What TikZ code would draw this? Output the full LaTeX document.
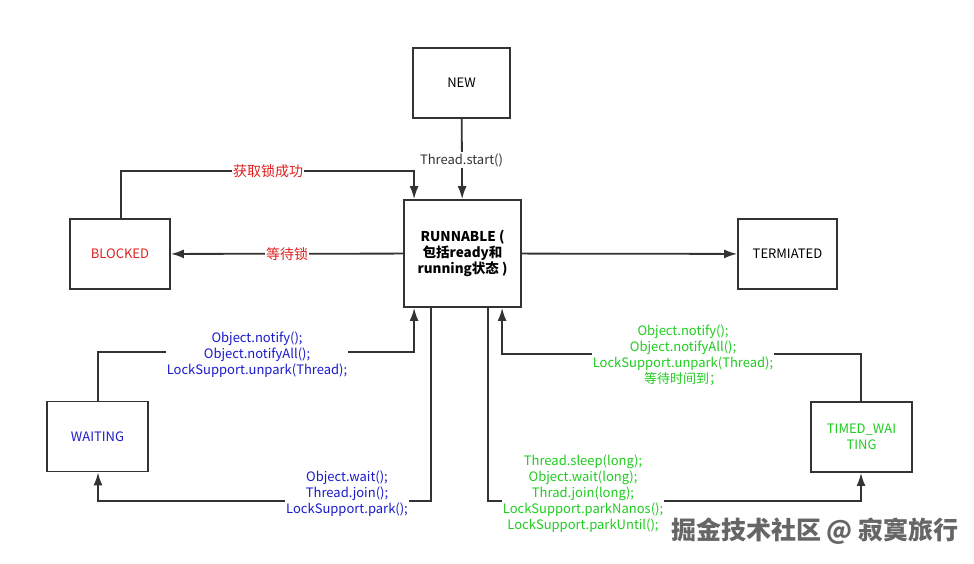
\documentclass[tikz,border=0pt]{standalone}
\usepackage{fontspec}
\setmainfont{Noto Sans CJK SC}
\usetikzlibrary{arrows.meta}
\definecolor{lineg}{HTML}{333333}
\definecolor{lred}{HTML}{E02020}
\definecolor{lblue}{HTML}{1A1ACC}
\definecolor{lgreen}{HTML}{1FCC1F}
\tikzset{
  state/.style={draw=lineg, line width=1.8pt, minimum width=97pt, minimum height=70pt, align=center, font=\fontsize{13}{16}\selectfont},
  arr/.style={-{Latex[length=13pt,width=9pt]}, draw=lineg, line width=1.8pt},
  lbl/.style={fill=white, align=center, inner sep=1pt, font=\fontsize{13}{16}\selectfont}
}
\begin{document}
\begin{tikzpicture}[x=1pt,y=-1pt]
    \useasboundingbox[fill=white] (0,0) rectangle (974,564);
    % states
    \node[state] (new) at (461.5,83) {NEW};
    \node[state, minimum width=117pt, minimum height=107pt, font=\fontsize{13.5}{16}\selectfont\bfseries] (runnable) at (462.5,253.5) {RUNNABLE (\\ 包括ready和\\running状态 )};
    \node[state, text=lred, minimum width=100pt] (blocked) at (120,254) {BLOCKED};
    \node[state, minimum width=99pt] (term) at (787.5,254) {TERMIATED};
    \node[state, text=lblue, minimum width=101pt] (waiting) at (97.5,436.5) {WAITING};
    \node[state, text=lgreen, minimum width=101pt] (timed) at (861.5,437) {TIMED\_WAI\\TING};
    % bends
    \coordinate (b1) at (121,171);
    \coordinate (w1) at (98,352);
    \coordinate (w2) at (98,501);
    \coordinate (t1) at (861,354);
    \coordinate (t2) at (861,501);
    % connectors
    \draw[arr] (new) -- (runnable);
    \draw[arr] (blocked.north -| b1) |- (b1) -| ([xshift=11pt]runnable.north west);
    \draw[arr] (runnable) -- (blocked);
    \draw[arr] (runnable) -- (term);
    \draw[arr] (waiting.north -| w1) |- (w1) -| ([xshift=11pt]runnable.south west);
    \draw[arr] ([xshift=28pt]runnable.south west) |- (w2) -- (waiting.south -| w2);
    \draw[arr] (timed.north -| t1) |- (t1) -| ([xshift=99pt]runnable.south west);
    \draw[arr] ([xshift=85pt]runnable.south west) |- (t2) -- (timed.south -| t2);
    % labels
    \node[lbl, text=lineg] (lstart) at (461.5,160) {Thread.start()};
    \node[lbl, text=lred, font=\fontsize{14}{16}\selectfont] (lget) at (268,171) {获取锁成功};
    \node[lbl, text=lred, font=\fontsize{14}{16}\selectfont] (lwaitlock) at (287,254) {等待锁};
    \node[lbl, text=lblue] (lnotify) at (257,355) {Object.notify();\\Object.notifyAll();\\LockSupport.unpark(Thread);};
    \node[lbl, text=lblue] (lwait) at (347,494) {Object.wait();\\Thread.join();\\LockSupport.park();};
    \node[lbl, text=lgreen] (ltnotify) at (683,355.5) {Object.notify();\\Object.notifyAll();\\LockSupport.unpark(Thread);\\等待时间到；};
    \node[lbl, text=lgreen] (lsleep) at (583,494) {Thread.sleep(long);\\Object.wait(long);\\Thrad.join(long);\\LockSupport.parkNanos();\\LockSupport.parkUntil();};
    \node[text=gray!80!black, font=\fontsize{25}{28}\selectfont\bfseries] (mark) at (815,531) {掘金技术社区 @ 寂寞旅行};
\end{tikzpicture}
\end{document}
